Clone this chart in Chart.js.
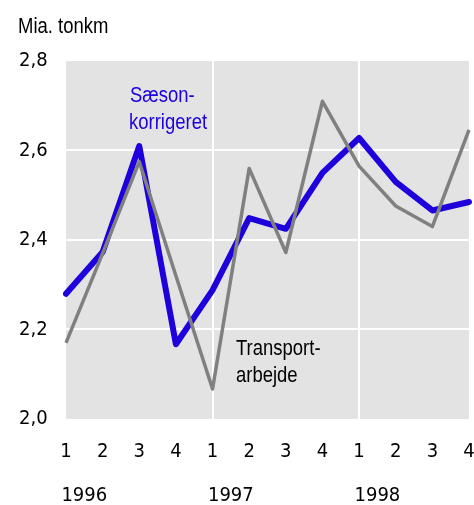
<!DOCTYPE html>
<html>
<head>
<meta charset="utf-8">
<script src="https://cdn.jsdelivr.net/npm/chart.js@4.4.1/dist/chart.umd.min.js"></script>
<style>
  html, body { margin: 0; padding: 0; background: #fff; }
  #wrap { width: 474px; height: 505px; position: relative; }
</style>
</head>
<body>
<div id="wrap"><canvas id="chart" width="474" height="505"></canvas></div>
<script>
// quarters 1996-1998
const quarters = ['1', '2', '3', '4', '1', '2', '3', '4', '1', '2', '3', '4'];
const years = ['1996', '1997', '1998'];
const yTicks = [2.0, 2.2, 2.4, 2.6, 2.8];

// Transportarbejde (faktisk)
const transport = [2.17, 2.37, 2.575, 2.32, 2.067, 2.56, 2.372, 2.71, 2.565, 2.476, 2.43, 2.646];
// Sæsonkorrigeret
const saeson = [2.28, 2.373, 2.61, 2.167, 2.288, 2.449, 2.425, 2.55, 2.628, 2.53, 2.466, 2.485];

const FONT = '"DejaVu Sans Condensed", "Liberation Sans", sans-serif';
const BLUE = '#1e00dc';

// narrow text: Liberation Sans squeezed horizontally
function narrowText(c, txt, x, y, color) {
    c.save();
    c.translate(x, y);
    c.scale(0.84, 1);
    c.fillStyle = color;
    c.font = '22px "Liberation Sans", Arial, sans-serif';
    c.textBaseline = 'alphabetic';
    c.fillText(txt, 0, 0);
    c.restore();
}

const plotBg = {
    id: 'plotBg',
    beforeDraw(chart) {
        const a = chart.chartArea;
        const c = chart.ctx;
        c.save();
        c.fillStyle = '#e3e3e3';
        c.fillRect(a.left, a.top, a.right - a.left, a.bottom - a.top);
        c.restore();
    },
    afterDraw(chart) {
        const c = chart.ctx;
        narrowText(c, 'Mia. tonkm', 18, 33, '#000');
        narrowText(c, 'Sæson-', 130, 102, BLUE);
        narrowText(c, 'korrigeret', 129, 129, BLUE);
        narrowText(c, 'Transport-', 236, 355, '#000');
        narrowText(c, 'arbejde', 236, 382, '#000');
    }
};

function noSidePad(scale) {
    scale.paddingLeft = 0;
    scale.paddingRight = 0;
}

new Chart(document.getElementById('chart'), {
    type: 'line',
    data: {
        labels: quarters,
        datasets: [
            {
                label: 'Transportarbejde',
                data: transport,
                borderColor: '#808080',
                borderWidth: 3.5,
                pointRadius: 0,
                tension: 0,
                borderJoinStyle: 'round'
            },
            {
                label: 'Sæsonkorrigeret',
                data: saeson,
                borderColor: BLUE,
                borderWidth: 6,
                pointRadius: 0,
                tension: 0,
                borderJoinStyle: 'round',
                borderCapStyle: 'round'
            }
        ]
    },
    options: {
        responsive: false,
        animation: false,
        layout: {
            autoPadding: false,
            padding: { top: 61, left: 19, right: 5, bottom: 0 }
        },
        plugins: {
            legend: { display: false },
            tooltip: { enabled: false }
        },
        scales: {
            x: {
                offset: false,
                border: { display: false },
                grid: {
                    drawTicks: false,
                    lineWidth: 2,
                    color: ctx => (ctx.index === 4 || ctx.index === 8) ? '#ffffff' : 'rgba(0,0,0,0)'
                },
                ticks: {
                    padding: 21,
                    autoSkip: false,
                    maxRotation: 0,
                    color: '#000',
                    font: { family: FONT, size: 20 }
                },
                afterFit(scale) { scale.height = 50; noSidePad(scale); }
            },
            yr: {
                type: 'linear',
                position: 'bottom',
                min: 0,
                max: quarters.length - 1,
                border: { display: false },
                grid: { display: false, drawTicks: false },
                afterBuildTicks(scale) {
                    scale.ticks = years.map((y, i) => ({ value: i * 4 + 0.5 }));
                },
                ticks: {
                    padding: 15,
                    autoSkip: false,
                    maxRotation: 0,
                    color: '#000',
                    font: { family: FONT, size: 20 },
                    callback: (v, i) => years[i]
                },
                afterFit(scale) { scale.height = 36; noSidePad(scale); }
            },
            y: {
                min: 2.0,
                max: 2.8,
                border: { display: false },
                grid: {
                    drawTicks: false,
                    lineWidth: 2,
                    color: ctx => (ctx.tick && (ctx.tick.value <= 2.0001 || ctx.tick.value >= 2.7999)) ? 'rgba(0,0,0,0)' : '#ffffff'
                },
                afterBuildTicks(scale) {
                    scale.ticks = yTicks.map(v => ({ value: v }));
                },
                ticks: {
                    crossAlign: 'far',
                    padding: 0,
                    color: '#000',
                    font: { family: FONT, size: 20 },
                    callback: v => v.toFixed(1).replace('.', ',')
                },
                afterFit(scale) { scale.width = 47; }
            }
        }
    },
    plugins: [plotBg]
});
</script>
</body>
</html>
